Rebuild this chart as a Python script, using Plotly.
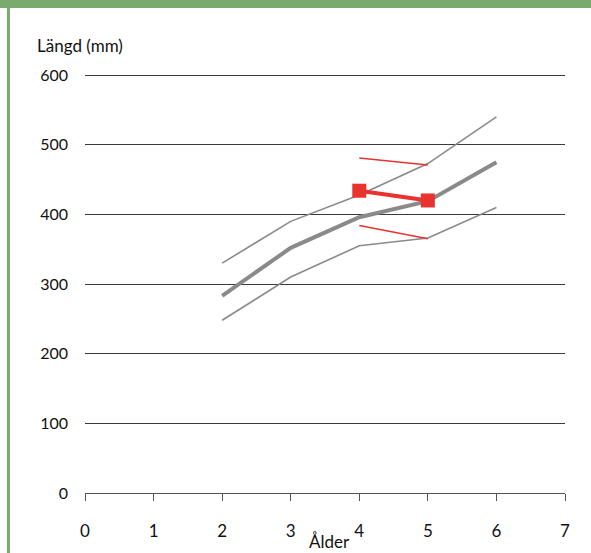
import plotly.graph_objects as go

# Age classes (years)
ages = [2, 3, 4, 5, 6]
# Length at age, mm
upper_len = [330, 390, 428, 473, 540]
mean_len = [283, 352, 396, 419, 475]
lower_len = [248, 310, 355, 366, 410]

# Observed cohort (red)
obs_ages = [4, 5]
obs_mean = [434, 420]
obs_upper = [481, 471]
obs_lower = [384, 365]

x_ticks = [0, 1, 2, 3, 4, 5, 6, 7]
y_ticks = [0, 100, 200, 300, 400, 500, 600]

GRAY = "#8a8a8a"
RED = "#e8332e"
GREEN = "#7aab6e"
FONT = "Lato"

fig = go.Figure()
fig.add_trace(go.Scatter(x=ages, y=upper_len, mode="lines",
                         line=dict(color=GRAY, width=1.6)))
fig.add_trace(go.Scatter(x=ages, y=lower_len, mode="lines",
                         line=dict(color=GRAY, width=1.6)))
fig.add_trace(go.Scatter(x=ages, y=mean_len, mode="lines",
                         line=dict(color=GRAY, width=4)))
fig.add_trace(go.Scatter(x=obs_ages, y=obs_upper, mode="lines",
                         line=dict(color=RED, width=1.6)))
fig.add_trace(go.Scatter(x=obs_ages, y=obs_lower, mode="lines",
                         line=dict(color=RED, width=1.6)))
fig.add_trace(go.Scatter(x=obs_ages, y=obs_mean, mode="lines+markers",
                         line=dict(color=RED, width=4),
                         marker=dict(symbol="square", size=14, color=RED)))

L, R, T, B = 85, 26, 73, 60
W, H = 591, 553
pw, ph = W - L - R, H - T - B

def px_x(p):
    return (p - L) / pw

def px_y(p):
    return (H - B - p) / ph

fig.update_layout(
    width=W, height=H,
    margin=dict(l=L, r=R, t=T, b=B),
    paper_bgcolor="white", plot_bgcolor="white",
    showlegend=False,
    font=dict(family=FONT, size=16, color="#111"),
    xaxis=dict(range=[0, 7], tickvals=x_ticks, showgrid=False, zeroline=False,
               showline=True, linecolor="#555", linewidth=1,
               ticks="outside", ticklen=7, tickcolor="#555",
               ticklabelstandoff=16, tickfont=dict(size=17)),
    yaxis=dict(range=[0, 603], tickvals=y_ticks, showgrid=True,
               gridcolor="#3a3a3a", gridwidth=1, zeroline=False,
               showline=False, ticks="", ticklabelstandoff=16,
               tickfont=dict(size=16)),
    shapes=[
        dict(type="rect", xref="paper", yref="paper",
             x0=-0.3, x1=1.2, y0=px_y(8), y1=px_y(-5),
             fillcolor=GREEN, line=dict(width=0), layer="above"),
        dict(type="rect", xref="paper", yref="paper",
             x0=px_x(7), x1=px_x(10), y0=px_y(560), y1=px_y(8),
             fillcolor=GREEN, line=dict(width=0), layer="above"),
    ],
    annotations=[
        dict(text="Längd (mm)", xref="paper", yref="paper",
             x=px_x(35), y=px_y(45), xanchor="left", yanchor="middle",
             showarrow=False, font=dict(size=17, family=FONT)),
        dict(text="Ålder", xref="x", yref="paper",
             x=3.57, y=px_y(541), xanchor="center", yanchor="middle",
             showarrow=False, font=dict(size=17, family=FONT)),
    ],
)

fig.write_html("out.html")
